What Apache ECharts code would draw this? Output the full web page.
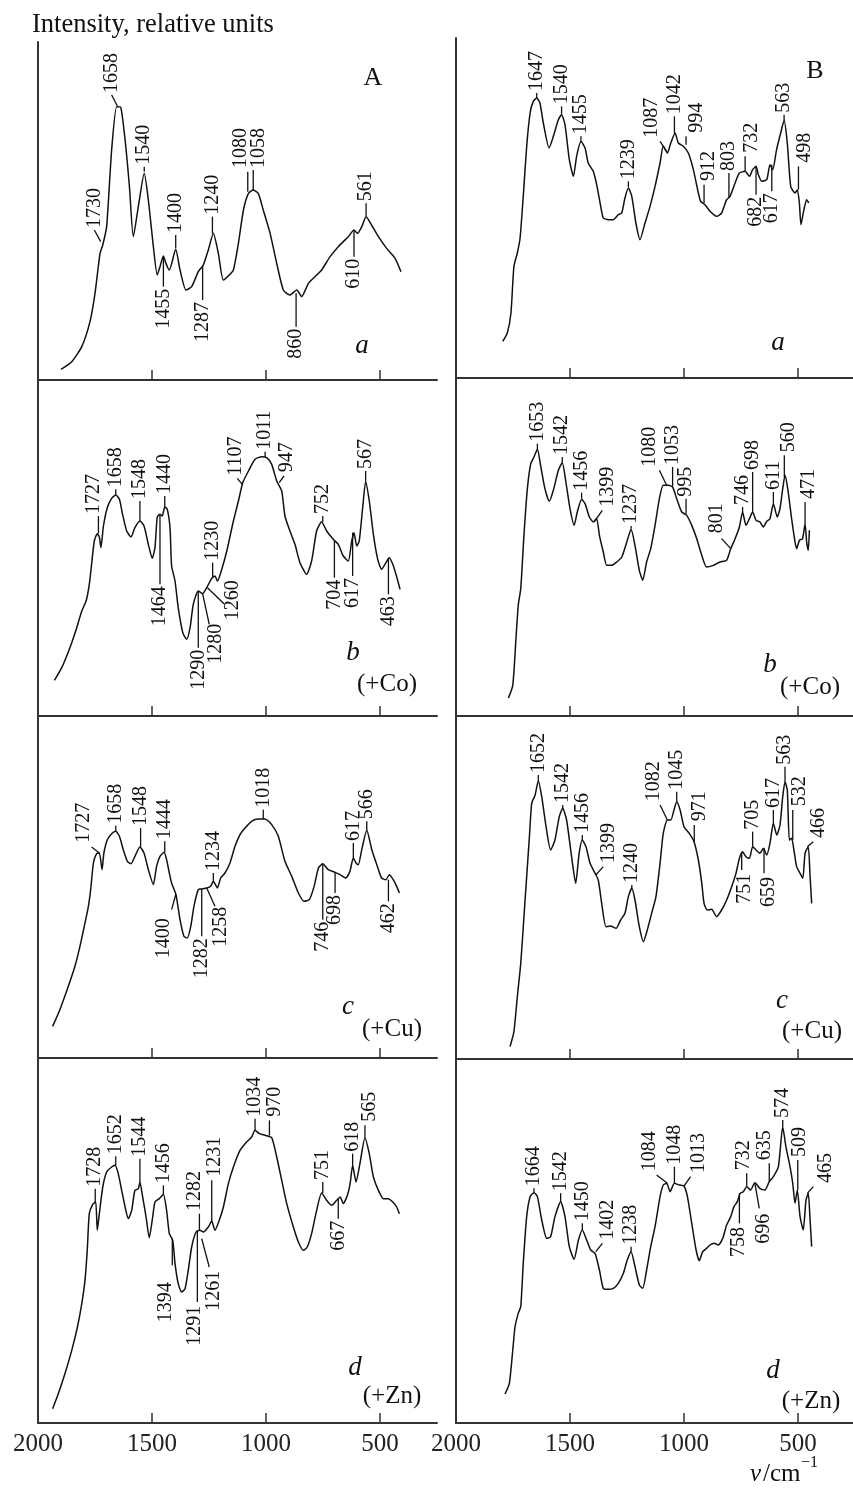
<!DOCTYPE html>
<html><head><meta charset="utf-8">
<script src="https://cdn.jsdelivr.net/npm/echarts@6/dist/echarts.min.js"></script>
<style>html,body{margin:0;padding:0;background:#fff}#c{width:853px;height:1491px}</style>
</head><body><div id="c"></div>
<script>
// ---- axis ticks (cm^-1) ----
const tickValues = [500, 1000, 1500];
const tickLabels = [500, 1000, 1500, 2000];

// ---- spectra: [wavenumber cm^-1, intensity (relative units)] ----
const spectrumAa = [[1899,3.2],[1852,5.5],[1808,10],[1772,17.5],[1750,26],[1728,38],[1716,40.5],[1699,46],[1677,69],[1655,82],[1637,81.8],[1618,72],[1599,58],[1582,43],[1560,52],[1534,62],[1516,54],[1494,40],[1477,31.5],[1465,34],[1450,37.2],[1439,35],[1424,33],[1396,39.2],[1377,33],[1351,27],[1326,28],[1297,32.5],[1275,34.5],[1253,39],[1231,44],[1209,38],[1187,30],[1161,31.5],[1143,33],[1121,41],[1099,51],[1077,56],[1056,57],[1034,56],[1012,51],[982,44],[953,35],[924,27],[895,25.5],[865,27],[844,25],[814,29],[785,31],[756,33],[719,37],[683,40],[639,43],[614,45],[599,44],[580,46],[561,49],[537,46.5],[507,43],[471,39.5],[434,36.5],[408,32.5]];
const spectrumAb = [[1928,10.7],[1896,14.5],[1860,20.5],[1830,26.5],[1808,31.5],[1789,34.5],[1775,39.5],[1765,45.5],[1753,52.5],[1740,54.7],[1731,53.7],[1724,50.5],[1713,57],[1696,62.5],[1677,65.3],[1659,66.3],[1643,65],[1629,60.5],[1611,55.5],[1592,53.7],[1575,56.5],[1553,58.5],[1535,57],[1516,51.5],[1499,47.3],[1487,50.5],[1477,59.7],[1465,60.5],[1455,60],[1444,62.7],[1433,62],[1421,56.5],[1414,45],[1399,40.5],[1385,32.5],[1365,25],[1348,23],[1333,26.5],[1319,33.5],[1297,37.5],[1278,36.7],[1260,38.5],[1238,41.3],[1224,42],[1213,40.5],[1194,44],[1172,49.5],[1143,58.5],[1121,64.5],[1102,70],[1077,73.5],[1048,77],[1019,77.8],[997,77.5],[975,75.5],[953,70.5],[931,67.5],[917,60],[895,55.5],[873,51.5],[851,46],[822,42.5],[800,46.5],[778,55.5],[756,58.3],[734,55.5],[705,53],[683,51.5],[661,48],[639,46.5],[624,52.5],[614,55],[602,51],[591,52.5],[576,62.5],[563,70.3],[547,64.5],[529,54.5],[510,47],[493,44],[474,46],[459,47.5],[444,45.5],[430,42.5],[412,38]];
const spectrumAc = [[1936,9.5],[1904,14.5],[1867,21.5],[1838,27.5],[1816,33.5],[1794,40.5],[1779,45.5],[1769,50.5],[1757,58.5],[1743,61.3],[1731,61.5],[1719,56.5],[1711,61.5],[1696,65.5],[1677,67.3],[1659,68],[1643,66.5],[1626,62.5],[1608,59],[1592,58.3],[1575,60.5],[1553,63.3],[1535,61.5],[1516,56.5],[1494,52],[1480,57.5],[1465,60.5],[1447,61.7],[1436,59.5],[1424,55.5],[1414,52.5],[1395,49],[1377,41.5],[1360,36.5],[1345,36],[1330,39.5],[1316,45.5],[1297,50.5],[1282,50.7],[1260,51],[1243,51.5],[1231,53],[1213,51],[1199,54],[1180,55.5],[1158,58.5],[1136,63.5],[1114,67],[1092,69],[1063,71],[1034,71.7],[1004,71.7],[975,70],[946,66.5],[917,59],[887,54.5],[858,49.5],[833,47],[810,47.5],[789,51.5],[770,57],[751,58.3],[727,56.5],[697,55.7],[675,55],[650,54],[632,56],[617,60],[605,58.5],[595,58],[580,62.5],[558,68.3],[536,62.5],[514,58],[493,54],[474,53.5],[459,55],[442,53.5],[427,51.5],[415,49.5]];
const spectrumAd = [[1936,4.3],[1911,8.8],[1882,14.8],[1852,21.8],[1827,28.8],[1808,35.8],[1794,42.8],[1784,51.8],[1775,62.8],[1760,65.6],[1747,66.3],[1740,57.8],[1731,62.8],[1716,70.8],[1699,75.3],[1677,76.8],[1662,77.3],[1648,74.8],[1633,69.8],[1618,64.8],[1604,61.3],[1589,63.8],[1575,69.8],[1560,70.3],[1553,72.3],[1541,67.8],[1526,61.8],[1512,55.6],[1497,61.8],[1487,66.3],[1468,67.3],[1450,68.6],[1436,63.8],[1424,56.8],[1409,54.8],[1399,47.8],[1385,41.8],[1370,39.3],[1355,40.3],[1341,45.8],[1326,52.8],[1307,57.3],[1290,57.8],[1275,57.3],[1253,58.8],[1238,60.6],[1224,57.8],[1205,60.8],[1187,64.8],[1165,71.8],[1143,76.8],[1114,81.8],[1085,84.3],[1063,85.8],[1048,87.8],[1029,86.8],[1004,86.3],[975,85.6],[953,79.8],[931,72.8],[909,65.8],[880,58.8],[858,54.3],[836,51.8],[819,52.8],[800,56.8],[781,62.8],[756,69],[734,66.8],[712,65.3],[690,66.8],[675,67.8],[661,65.8],[643,68.3],[631,71.8],[620,77.3],[605,72.3],[588,77.8],[566,85.6],[547,80.8],[529,73.8],[507,69.8],[485,67.3],[464,67.3],[444,66.3],[427,64.8],[415,62.8]];
const spectrumBa = [[1795,11],[1775,13.5],[1759,19.5],[1746,33.5],[1731,37.5],[1719,42],[1705,54.5],[1690,69.5],[1675,79.5],[1661,83],[1646,84],[1632,82.5],[1617,76.5],[1592,69],[1573,72.5],[1551,77.5],[1537,79],[1522,76],[1503,65.5],[1485,60.5],[1471,66.5],[1452,71],[1434,69],[1420,64.5],[1398,62],[1383,58],[1368,52.5],[1354,48],[1332,47.5],[1310,47.5],[1288,49],[1273,49.5],[1259,54],[1244,57],[1229,54.5],[1211,46.5],[1193,41.5],[1171,46.5],[1149,51.5],[1127,57.5],[1105,64.5],[1091,69.5],[1073,67.5],[1058,70.5],[1039,73.5],[1025,70.5],[1003,69.5],[981,67.5],[959,62.5],[937,55.5],[927,53],[908,52],[886,50],[857,48.5],[835,49.5],[813,53.5],[798,54.5],[776,58.5],[757,61.5],[732,62],[713,60.5],[699,62.5],[684,63.5],[674,61],[659,59],[637,59.5],[623,64],[611,62.5],[594,68.5],[576,73.5],[561,77.3],[547,70.5],[532,57.5],[513,55.5],[503,56.5],[494,52.5],[487,46],[474,50.5],[462,53.5],[453,52.5]];
const spectrumBb = [[1770,5.4],[1751,9.2],[1737,23.2],[1727,33.2],[1716,38.2],[1702,54.2],[1687,68.2],[1672,75.7],[1658,77.7],[1643,80],[1629,75.2],[1610,68.2],[1591,64.4],[1573,67.7],[1551,73.7],[1534,76],[1518,70.2],[1500,62.2],[1482,57.2],[1468,61.2],[1449,65],[1434,63.7],[1415,59.7],[1398,58.2],[1383,59.2],[1371,54.2],[1354,49.2],[1339,45.2],[1317,45.2],[1295,46.2],[1273,47.7],[1251,52.2],[1232,56],[1215,51.2],[1196,43.7],[1181,40.7],[1164,46.2],[1146,50.2],[1127,57.2],[1108,65.2],[1091,69.2],[1069,69.2],[1050,68.7],[1032,65.2],[1010,61.2],[988,60.2],[966,57.2],[944,53.2],[922,48.2],[901,44.7],[871,45.2],[842,46.2],[813,46.7],[795,50.2],[776,53.2],[757,56.7],[743,61.2],[728,57.2],[713,59.2],[699,61.2],[684,58.7],[667,58.2],[652,56.7],[637,58.4],[623,59.2],[608,63.7],[591,59.7],[579,62.2],[567,68.2],[557,72.2],[545,68.2],[528,59.2],[513,52.2],[506,50.2],[494,52.7],[480,53.2],[469,57.7],[462,52.2],[455,49.7],[450,55.7]];
const spectrumBc = [[1763,3.7],[1746,8.2],[1731,18.7],[1716,28.7],[1702,42.7],[1690,54.7],[1678,66.7],[1668,76.7],[1653,79.2],[1639,83.5],[1624,78.7],[1605,69.7],[1585,62.7],[1566,65.7],[1547,72.7],[1532,75.2],[1515,71.7],[1493,60.7],[1475,52.7],[1460,61.7],[1446,65.7],[1430,63.7],[1412,58.7],[1390,55.7],[1376,53.7],[1361,46.7],[1342,39.7],[1322,39.9],[1298,39.2],[1278,41.7],[1259,43.7],[1244,48.7],[1229,51.2],[1215,47.7],[1196,39.7],[1178,35.2],[1161,38.7],[1142,43.7],[1123,48.7],[1105,58.7],[1091,67.7],[1073,71.7],[1058,71.7],[1044,74.7],[1032,77.2],[1017,74.7],[1000,69.7],[977,67.7],[956,65.2],[937,59.7],[922,52.7],[912,46.7],[898,44.7],[879,44.9],[857,42.7],[835,44.7],[813,47.7],[791,51.7],[772,55.7],[757,60.2],[743,62.2],[728,60.7],[713,60.2],[699,63.7],[684,62.7],[667,61.7],[652,63.2],[637,61.2],[623,64.7],[608,70.7],[593,67.2],[579,70.2],[567,78.7],[557,83.2],[547,80.7],[538,65.7],[528,66.2],[518,62.7],[506,57.7],[491,55.7],[479,54.2],[469,61.7],[455,63.7],[447,54.7],[440,46.7]];
const spectrumBd = [[1785,8.7],[1766,11.9],[1751,21.9],[1741,28.9],[1727,32.9],[1716,34.9],[1705,47.9],[1690,61.9],[1675,67.9],[1658,69.1],[1643,67.9],[1624,60.9],[1602,55.4],[1585,55.9],[1566,61.9],[1541,66.4],[1522,61.9],[1503,52.9],[1482,49.1],[1463,54.9],[1446,57.9],[1427,54.9],[1409,51.9],[1390,50.9],[1371,45.9],[1354,40.4],[1332,40.1],[1310,40.4],[1288,41.9],[1266,44.9],[1249,48.9],[1232,51.4],[1215,46.9],[1196,41.4],[1181,40.4],[1164,45.9],[1146,52.9],[1127,58.9],[1105,67.9],[1091,71.4],[1076,71.9],[1061,69.4],[1042,71.9],[1020,71.4],[1000,71.1],[985,67.9],[966,59.9],[947,51.9],[933,48.7],[918,51.4],[901,52.4],[886,53.4],[868,53.9],[849,53.4],[830,55.4],[813,59.4],[795,61.9],[781,64.9],[766,66.4],[754,68.9],[740,69.4],[725,70.9],[708,69.9],[689,72.1],[667,70.4],[645,69.9],[626,72.4],[608,73.9],[586,76.9],[567,88.9],[553,82.9],[535,76.9],[523,71.9],[513,65.9],[503,69.9],[491,61.9],[477,57.9],[465,66.9],[455,68.9],[447,60.9],[440,52.9]];

// ---- peak annotations: [label, leader from (wn, I), leader to (wn, I), label side, optional label anchor (wn, I)] ----
const peaksAa = [["1730",1725,41.5,1753,45,'up'],["1658",1652,82.2,1677,85.5,'up'],["1540",1534,62.5,1534,64,'up'],["1455",1450,37,1450,28,'down'],["1400",1396,39.5,1396,43.5,'up'],["1287",1278,34.5,1278,24,'down'],["1240",1235,44,1235,49,'up'],["1080",1080,56.5,1080,62.5,'up',1111,63],["1058",1056,57,1056,63,'up',1031,63],["860",868,26,868,16,'down'],["610",614,45,614,37,'down'],["561",561,49,561,53,'up']];
const peaksAb = [["1727",1735,54.7,1735,60,'up',1757,60],["1658",1659,66.3,1659,68,'up'],["1548",1553,58.5,1553,64.5,'up'],["1440",1444,62.7,1444,66,'up'],["1464",1465,60.5,1465,39.5,'down'],["1230",1234,41.5,1234,46,'up'],["1260",1257,38.5,1184,33.7,'down',1148,41.3],["1280",1278,36.7,1249,27.5,'down',1219,28.3],["1290",1297,37.5,1297,20.5,'down'],["1107",1104,69.5,1126,71.3,'up',1132,71.5],["1011",1004,77.8,1004,79.3,'up'],["947",942,70,921,72,'up',909,72.5],["752",751,58.3,751,60,'up'],["704",700,52.7,700,41.5,'down'],["617",620,55,620,42,'down'],["567",563,70.3,563,73.5,'up'],["463",463,47.5,463,36.5,'down']];
const peaksAc = [["1727",1731,61.5,1765,63.3,'up',1798,64],["1658",1659,68,1659,69.7,'up'],["1548",1550,63.3,1550,69,'up'],["1444",1444,61.7,1444,65,'up'],["1400",1395,49.2,1414,44.5,'down',1449,42.5],["1282",1282,50.7,1282,36.5,'down'],["1258",1260,51,1224,45.5,'down',1197,46],["1234",1231,53,1231,55.5,'up'],["1018",1012,71.7,1012,74.5,'up'],["746",751,58.3,751,41.5,'down'],["698",697,55.7,697,49.5,'down'],["617",617,60,617,64.5,'up'],["566",558,68.3,558,71,'up'],["462",463,53.5,463,47,'down']];
const peaksAd = [["1728",1749,66.3,1749,70.3,'up'],["1652",1659,77.3,1659,80,'up'],["1544",1553,72.3,1553,79.3,'up'],["1456",1450,68.6,1450,71.3,'up'],["1394",1411,55.3,1411,47.3,'down',1440,42.8],["1291",1301,57.8,1301,36.3,'down',1311,35.8],["1282",1292,57.8,1292,62.8,'up',1311,63],["1261",1282,55.3,1249,46.8,'down',1231,46.3],["1231",1238,60.6,1238,72.8,'up',1224,73.3],["1034",1048,87.8,1048,91.3,'up'],["970",985,86.3,985,90.8,'up',960,91.3],["751",751,69,751,72.3,'up'],["667",683,67.3,683,61.3,'down'],["618",620,77.3,620,80.8,'up'],["565",566,85.6,566,89.3,'up',544,89.8]];
const peaksBa = [["1647",1646,84,1646,85.5,'up'],["1540",1537,79.2,1537,81.5,'up'],["1455",1452,71.2,1452,72.5,'up'],["1239",1244,57.2,1244,59,'up'],["1087",1073,67.7,1105,71,'up',1142,71.5],["1042",1042,73.5,1042,78.5,'up'],["994",991,70,991,72.5,'up',944,73],["912",912,52.5,912,58,'up',893,58.5],["803",803,54,803,61.5,'up'],["732",732,62,732,66.5,'up',703,67],["682",684,63.5,684,55,'down'],["617",615,64,615,56,'down'],["563",561,77.3,561,79,'up'],["498",498,56.5,498,63.5,'up',469,64]];
const peaksBb = [["1653",1643,80,1643,81.7,'up'],["1542",1534,76,1534,77.7,'up'],["1456",1449,65.2,1449,67,'up'],["1399",1395,58.2,1358,61.7,'up',1336,62.2],["1237",1232,56.2,1232,57,'up'],["1080",1076,69.2,1108,73.7,'up',1149,74.2],["1053",1050,69,1050,74.7,'up'],["995",991,60.7,991,65.2,'up'],["801",795,50.2,835,53.2,'up',857,54.2],["746",743,61.2,743,62.7,'up'],["698",699,61.2,699,73.2,'up'],["611",608,63.7,608,67.2,'up'],["560",560,71.7,560,78.2,'up',542,78.5],["471",469,57.7,469,64.2,'up',455,64.5]];
const peaksBc = [["1652",1639,83.5,1639,85.2,'up'],["1542",1532,75.2,1532,76.2,'up'],["1456",1446,65.7,1446,67.2,'up'],["1399",1387,55.2,1354,57.7,'up',1329,58.2],["1240",1229,51.2,1229,52.2,'up'],["1082",1073,71.7,1105,76.2,'up',1134,76.7],["1045",1032,77.2,1032,80.2,'up'],["971",955,65.2,955,70.2,'up',933,70.7],["751",747,61.7,747,56.7,'down',732,56.2],["705",699,63.7,699,68.2,'up'],["659",649,63.2,649,55.7,'down',627,55.2],["617",608,70.7,608,74.7,'up'],["563",557,83.2,557,87.7,'up'],["532",523,65.7,523,74.7,'up',491,75.2],["466",459,63.7,433,65.2,'up',411,65.7]];
const peaksBd = [["1664",1658,69.1,1658,70.4,'up'],["1542",1541,66.4,1541,68.9,'up'],["1450",1446,57.9,1446,59.9,'up'],["1402",1387,51.4,1358,53.9,'up',1336,54.4],["1238",1232,51.4,1232,52.9,'up'],["1084",1073,71.9,1120,74.4,'up',1149,74.9],["1048",1042,71.9,1042,76.9,'up'],["1013",1000,71.1,971,73.9,'up',937,74.4],["758",757,68.9,757,59.9,'down',762,59.4],["732",725,70.9,725,74.9,'up',740,75.2],["696",689,71.9,670,64.4,'down',652,63.4],["635",626,72.4,626,77.9,'up',645,78.2],["574",567,88.9,567,90.9,'up'],["509",501,69.9,501,78.9,'up',491,79.2],["465",459,68.9,433,70.9,'up',379,71.4]];

// ---- panel captions ----
const panelLetters = ['a','b','c','d'];
const panelMetals = ['', '(+Co)', '(+Cu)', '(+Zn)'];
const columnTitles = ['A','B'];

// ---- layout ----
const FONT = '"Liberation Serif", "Times New Roman", serif';
const colLeft = [38, 456];
const colWidth = 399;
const rowsByCol = [
  [[42,338],[380,336],[716,342],[1058,365]],
  [[38,340],[378,338],[716,343],[1059,364]]
];
const panels = [
  {spec: spectrumAa, peaks: peaksAa, col:0, row:0},
  {spec: spectrumAb, peaks: peaksAb, col:0, row:1},
  {spec: spectrumAc, peaks: peaksAc, col:0, row:2},
  {spec: spectrumAd, peaks: peaksAd, col:0, row:3},
  {spec: spectrumBa, peaks: peaksBa, col:1, row:0},
  {spec: spectrumBb, peaks: peaksBb, col:1, row:1},
  {spec: spectrumBc, peaks: peaksBc, col:1, row:2},
  {spec: spectrumBd, peaks: peaksBd, col:1, row:3}
];
const AXC = '#333';

const grids = [], xAxes = [], yAxes = [], series = [];
panels.forEach((p, i) => {
  const r = rowsByCol[p.col][p.row];
  grids.push({left: colLeft[p.col], top: r[0], width: colWidth, height: r[1], containLabel:false, outerBoundsMode:'none'});
  const bottom = p.row === 3;
  xAxes.push({
    gridIndex: i, type: 'value', inverse: true, min: 250, max: 2000,
    axisLine: {show: true, onZero: false, lineStyle: {color: AXC, width: 2}},
    axisTick: {show: true, inside: true, length: 10, customValues: tickValues, lineStyle: {color: AXC, width: 1.5}},
    axisLabel: {show: bottom, customValues: tickLabels, margin: 9, fontFamily: FONT, fontSize: 25, color: '#222',
                formatter: function (v) { return String(Math.round(v)); }},
    splitLine: {show: false}
  });
  // y axis span: panel height in the same relative units the spectra were read in
  yAxes.push({
    gridIndex: i, type: 'value', min: 0, max: +(r[1] * 0.3).toFixed(1),
    axisLine: {show: true, lineStyle: {color: AXC, width: 2}},
    axisTick: {show: false}, axisLabel: {show: false}, splitLine: {show: false}
  });
  series.push({
    type: 'line', xAxisIndex: i, yAxisIndex: i, data: p.spec, showSymbol: false, smooth: 0.2,
    lineStyle: {color: '#111', width: 1.5}, silent: true, z: 3
  });
  const pk = p.peaks;
  series.push({
    type: 'custom', xAxisIndex: i, yAxisIndex: i, clip: false, silent: true, z: 4,
    data: pk.map(a => [a[1], a[2], a[3], a[4], a[6] != null ? a[6] : a[3], a[7] != null ? a[7] : a[4]]),
    encode: {x: [0, 2, 4], y: [1, 3, 5]},
    renderItem: function (params, api) {
      const a = pk[params.dataIndex];
      const s = api.coord([api.value(0), api.value(1)]);
      const e = api.coord([api.value(2), api.value(3)]);
      const l = api.coord([api.value(4), api.value(5)]);
      const up = a[5] === 'up';
      return {type: 'group', children: [
        {type: 'line', shape: {x1: s[0], y1: s[1], x2: e[0], y2: e[1]}, style: {stroke: '#111', lineWidth: 1.3}},
        {type: 'text', x: l[0], y: l[1] + (up ? -2 : 2), rotation: Math.PI / 2,
         style: {text: a[0], x: 0, y: 0, align: up ? 'left' : 'right', textAlign: up ? 'left' : 'right',
                 verticalAlign: 'middle', textVerticalAlign: 'middle', font: '20px ' + FONT, fill: '#111'}}
      ]};
    }
  });
});

// captions (text positions are layout only)
const letterPos = [[[362,346],[353,653],[348,1007],[355,1368]], [[778,343],[770,665],[782,1001],[773,1371]]];
const metalPos = [[null,[387,684],[392,1029],[392,1396]], [null,[810,687],[812,1031],[811,1401]]];
const titlePos = [[373,78],[815,71]];
const graphic = [];
function txt(x, y, text, font, align) {
  graphic.push({type: 'text', x: x, y: y, silent: true, style: {text: text, font: font, fill: '#111',
    align: align || 'center', textAlign: align || 'center', verticalAlign: 'middle', textVerticalAlign: 'middle'}});
}
txt(32, 25, 'Intensity, relative units', '26.5px ' + FONT, 'left');
for (let c = 0; c < 2; c++) {
  txt(titlePos[c][0], titlePos[c][1], columnTitles[c], '26px ' + FONT);
  for (let r = 0; r < 4; r++) {
    txt(letterPos[c][r][0], letterPos[c][r][1], panelLetters[r], 'italic 27px ' + FONT);
    if (metalPos[c][r]) txt(metalPos[c][r][0], metalPos[c][r][1], panelMetals[r], '25px ' + FONT);
  }
}
txt(750, 1474, 'ν', 'italic 25px ' + FONT, 'left');
txt(763, 1474, '/cm', '25px ' + FONT, 'left');
txt(801, 1463, '−1', '16px ' + FONT, 'left');

const chart = echarts.init(document.getElementById('c'), null, {renderer: 'canvas'});
chart.setOption({
  animation: false,
  backgroundColor: '#fff',
  grid: grids, xAxis: xAxes, yAxis: yAxes, series: series, graphic: graphic
});
</script>
</body></html>
